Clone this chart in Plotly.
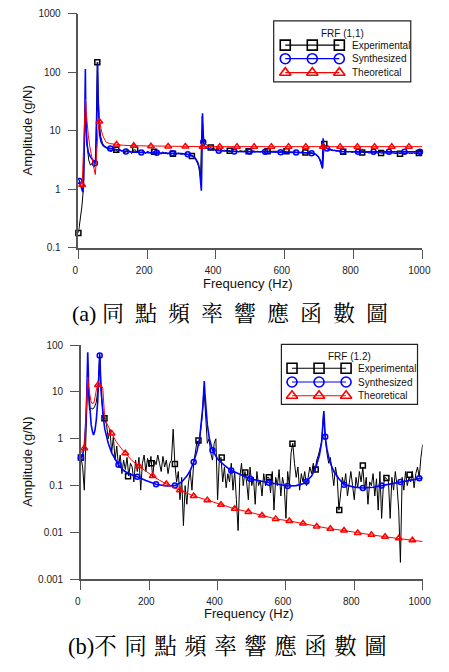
import math
import plotly.graph_objects as go

# the page body keeps the browser's default 8px margin on every side; the figure is sized
# so that figure + margins is exactly the 449x672 window
OFF = 8
W, H = 449 - 2 * OFF, 672 - 2 * OFF


def px(x):
    return (x - OFF) / W


def py(y):
    return 1 - (y - OFF) / H


# ---------------- DATA ----------------
freq_grid = list(range(0, 1001, 5))

# FRF (1,1) experimental (5 Hz grid)
top_exp = [
    0.18, 0.30, 0.50, 1.1, 25, 6.0, 3.2, 2.6, 2.8, 2.4,
    2.9, 150, 14, 8.0, 6.2, 5.5, 5.4, 4.8, 5.1, 4.4,
    4.9, 4.6, 4.8, 4.3, 4.9, 4.5, 4.7, 4.2, 4.8, 4.4,
    4.6, 4.1, 4.7, 4.8, 4.3, 4.6, 4.2, 4.5, 4.6, 4.1,
    4.5, 4.4, 4.2, 4.6, 4.4, 4.1, 4.4, 4.3, 4.0, 4.4,
    4.2, 4.3, 4.0, 4.3, 4.1, 4.1, 4.2, 4.0, 4.2, 4.1,
    4.0, 4.1, 3.9, 4.0, 3.9, 3.8, 3.75, 3.6, 3.4, 3.0,
    2.5, 1.6, 18, 7.0, 6.0, 5.6, 5.3, 5.2, 5.0, 5.1,
    4.8, 4.9, 4.7, 4.8, 4.6, 4.7, 4.6, 4.7, 4.6, 4.5,
    4.6, 4.5, 4.6, 4.4, 4.6, 4.5, 4.5, 4.6, 4.4, 4.5,
    4.5, 4.4, 4.6, 4.4, 4.5, 4.5, 4.4, 4.6, 4.4, 4.5,
    4.5, 4.4, 4.5, 4.4, 4.5, 4.4, 4.5, 4.3, 4.5, 4.4,
    4.4, 4.5, 4.3, 4.4, 4.4, 4.3, 4.4, 4.3, 4.4, 4.3,
    4.4, 4.3, 4.3, 4.3, 4.2, 4.3, 4.2, 4.1, 4.0, 3.8,
    3.4, 2.8, 2.3, 6.0, 5.2, 4.9, 4.8, 4.7, 4.6, 4.7,
    4.5, 4.6, 4.5, 4.5, 4.4, 4.5, 4.4, 4.4, 4.5, 4.3,
    4.4, 4.4, 4.3, 4.4, 4.3, 4.3, 4.4, 4.3, 4.3, 4.2,
    4.3, 4.3, 4.2, 4.3, 4.2, 4.3, 4.2, 4.2, 4.3, 4.2,
    4.2, 4.3, 4.2, 4.2, 4.1, 4.2, 4.2, 4.1, 4.2, 4.2,
    4.1, 4.2, 4.2, 4.1, 4.2, 4.2, 4.1, 4.2, 4.2, 4.1,
    4.2,
]
top_exp_marker_every = 11

# FRF (1,1) synthesized
top_syn_f = [0, 3, 5, 10, 13, 15, 17, 18.5, 19.5, 20.3, 21, 22.5, 25, 29, 35, 42, 48, 50, 52, 54,
             55, 56, 57, 59, 62, 66, 72, 80, 93, 110, 138, 183, 228, 273, 300, 318, 330, 340,
             347, 352, 355.5, 357.5, 359, 360, 361, 362, 363, 366, 375, 390, 408, 453, 498,
             543, 588, 633, 665, 678, 690, 698, 704, 708, 709.5, 710.5, 711.5, 713, 716, 723,
             740, 768, 813, 858, 903, 948, 993, 1000]
top_syn_a = [1.5, 1.4, 1.25, 0.95, 0.9, 1.5, 4, 15, 50, 115, 40, 12, 6, 4.3, 3.6, 3.2, 2.8, 3.2, 6, 20,
             60, 150, 40, 14, 8.5, 6.5, 5.6, 5.2, 5.0, 4.7, 4.45, 4.3, 4.25, 4.15, 4.1, 4.0, 3.8, 3.4,
             2.9, 2.3, 1.5, 0.95, 3, 9, 20, 10, 6.5, 5.6, 5.0, 4.75, 4.6, 4.45, 4.45,
             4.4, 4.35, 4.3, 4.22, 4.18, 4.0, 3.6, 3.1, 2.6, 2.3, 4, 7.5, 6.0, 5.4, 5.0,
             4.7, 4.45, 4.4, 4.4, 4.4, 4.4, 4.4, 4.4]
top_syn_marker_f = [3, 48, 93, 138, 183, 228, 273, 318, 363, 408, 453, 498, 543, 588, 633, 678,
                    723, 768, 813, 858, 903, 948, 993]

# FRF (1,1) theoretical
top_th_f = [11, 14, 17, 19, 20.5, 23, 26, 29, 33, 38, 44, 49, 51, 54, 57, 61, 63, 66, 70, 80, 90,
            111, 130, 161, 211, 261, 311, 361, 411, 461, 511, 561, 611, 661, 711, 761, 811, 861,
            911, 961, 1000]
top_th_a = [1.2, 3, 10, 25, 35, 20, 12, 8.3, 5.5, 3.8, 2.5, 1.8, 2.5, 5, 10, 14.5, 13.5, 11, 8.5, 6.5,
            6.1, 5.9, 5.7, 5.6, 5.5, 5.45, 5.45, 5.4, 5.4, 5.4, 5.4, 5.4, 5.4, 5.4, 5.4, 5.4, 5.4,
            5.4, 5.4, 5.4, 5.4]
top_th_marker_f = [11, 61, 111, 161, 211, 261, 311, 361, 411, 461, 511, 561, 611, 661, 711, 761,
                   811, 861, 911, 961]

# FRF (1.2) experimental (5 Hz grid)
bot_exp = [
    0.40, 0.25, 0.08, 1.5, 20, 4.2, 4.5, 4.3, 4.8, 6.0,
    12, 65, 8.0, 3.5, 2.7, 2.0, 1.0, 1.6, 0.5, 1.1,
    0.35, 0.7, 0.25, 0.45, 0.18, 0.35, 0.22, 0.4, 0.16, 0.3,
    0.25, 0.12, 0.35, 0.2, 0.4, 0.08, 0.3, 0.45, 0.2, 0.38,
    0.25, 0.42, 0.15, 0.35, 0.28, 0.45, 0.3, 0.2, 0.42, 0.25,
    0.35, 0.18, 0.3, 0.35, 1.6, 0.29, 0.12, 0.2, 0.05, 0.15,
    0.014, 0.1, 0.04, 0.12, 0.2, 0.08, 0.3, 0.5, 0.9, 0.7,
    1.5, 3.0, 12, 2.5, 0.8, 1.0, 0.5, 0.35, 0.8, 1.0,
    0.05, 0.35, 0.4, 0.12, 0.25, 0.09, 0.18, 0.12, 0.3, 0.08,
    0.2, 0.05, 0.011, 0.15, 0.3, 0.1, 0.2, 0.12, 0.05, 0.25,
    0.1, 0.15, 0.04, 0.2, 0.1, 0.13, 0.06, 0.18, 0.1, 0.15,
    0.15, 0.07, 0.2, 0.03, 0.15, 0.1, 0.22, 0.06, 0.15, 0.1,
    0.02, 0.2, 0.1, 0.5, 0.8, 0.3, 0.15, 0.25, 0.08, 0.18,
    0.12, 0.2, 0.1, 0.15, 0.25, 0.18, 0.3, 0.2, 0.35, 0.45,
    0.6, 0.9, 3.5, 1.0, 0.5, 0.3, 0.4, 0.2, 0.1, 0.25,
    0.15, 0.03, 0.08, 0.15, 0.1, 0.18, 0.06, 0.12, 0.2, 0.1,
    0.05, 0.15, 0.09, 0.2, 0.12, 0.25, 0.08, 0.15, 0.04, 0.12,
    0.1, 0.18, 0.06, 0.14, 0.03, 0.2, 0.02, 0.1, 0.15, 0.14,
    0.12, 0.02, 0.15, 0.08, 0.2, 0.1, 0.03, 0.0023, 0.15, 0.08,
    0.2, 0.1, 0.15, 0.12, 0.2, 0.09, 0.18, 0.25, 0.15, 0.4,
    0.75,
]
bot_exp_marker_f = [0, 69, 138, 206, 275, 344, 412, 481, 550, 619, 687, 756, 825, 894, 962]
bot_exp_marker_a = [0.40, 2.75, 0.158, 0.30, 0.29, 0.92, 0.40, 0.19, 0.15, 0.78, 0.22, 0.03, 0.27,
                    0.145, 0.17]

# FRF (1.2) synthesized
bot_syn_f = [0, 5, 10, 14, 17, 19, 20, 21, 23, 26, 30, 34, 37, 41, 45, 49, 52, 54, 55, 56, 58, 61,
             65, 70, 80, 90, 100, 110, 125, 140, 165, 190, 220, 250, 275, 295, 310, 320, 330, 340,
             348, 353, 357, 359, 361, 363, 366, 370, 376, 385, 400, 420, 440, 470, 495, 525, 550,
             580, 605, 630, 650, 660, 675, 688, 698, 704, 708, 711, 713, 715, 720, 728, 740, 755,
             770, 800, 825, 855, 880, 910, 935, 965, 990, 1000]
bot_syn_a = [0.39, 0.45, 0.7, 2, 8, 40, 70, 40, 10, 4, 2, 1.4, 1.2, 1.5, 2.5, 6, 15, 40, 60, 50, 15, 6,
             3, 1.6, 0.8, 0.5, 0.36, 0.28, 0.21, 0.18, 0.155, 0.128, 0.107, 0.098, 0.10, 0.12, 0.16,
             0.21, 0.32, 0.55, 1.1, 2.2, 5, 9, 17, 9, 4, 2, 1.0, 0.57, 0.37, 0.27, 0.21, 0.165, 0.14,
             0.125, 0.115, 0.105, 0.098, 0.1, 0.11, 0.123, 0.16, 0.25, 0.45, 0.8, 1.6, 3.9, 2.0,
             1.1, 0.6, 0.33, 0.2, 0.14, 0.105, 0.093, 0.089, 0.092, 0.1, 0.11, 0.12, 0.13, 0.144,
             0.146]
bot_syn_marker_f = [0, 55, 110, 165, 220, 275, 330, 385, 440, 495, 550, 605, 660, 715, 770, 825, 880,
                    935, 990]

# FRF (1.2) theoretical
bot_th_f = [0, 5, 10, 14, 17, 19, 20, 22, 25, 29, 32, 38, 42, 46, 50, 55, 62, 64, 66, 69, 75, 82, 90,
            100, 110, 130, 150, 170, 190, 210, 230, 250, 270, 290, 310, 330, 370, 410, 450, 490,
            530, 570, 610, 650, 690, 730, 770, 810, 850, 890, 930, 970, 1000]
bot_th_a = [0.5, 0.56, 0.63, 2, 8, 18, 21, 14, 9, 6.5, 5.7, 5.8, 8, 12, 14, 13.5, 13, 12, 7, 3.3, 2.2,
            1.65, 1.3, 0.95, 0.74, 0.49, 0.34, 0.26, 0.2, 0.16, 0.13, 0.108, 0.092, 0.08, 0.069,
            0.06, 0.049, 0.039, 0.032, 0.0275, 0.023, 0.0195, 0.0176, 0.0155, 0.0135, 0.012, 0.011,
            0.0098, 0.0089, 0.0081, 0.0075, 0.0068, 0.0064]
bot_th_marker_f = [10, 50, 90, 130, 170, 210, 250, 290, 330, 370, 410, 450, 490, 530, 570, 610, 650,
                   690, 730, 770, 810, 850, 890, 930, 970]

x_ticks = [0, 200, 400, 600, 800, 1000]
x_minor = [100, 300, 500, 700, 900]
top_y_ticks = [0.1, 1, 10, 100, 1000]
top_y_text = ["0.1", "1", "10", "100", "1000"]
bot_y_ticks = [0.001, 0.01, 0.1, 1, 10, 100]
bot_y_text = ["0.001", "0.01", "0.1", "1", "10", "100"]

series_names = ["Experimental", "Synthesized", "Theoretical"]
top_legend_title = "FRF (1,1)"
bot_legend_title = "FRF (1.2)"
caption_a = "(a) 同\u2002點\u2002頻\u2002率\u2002響\u2002應\u2002函\u2002數\u2002圖"
caption_b = "(b)不\u2004同\u2004點\u2004頻\u2004率\u2004響\u2004應\u2004函\u2004數\u2004圖"
x_title = "Frequency (Hz)"
y_title = "Amplitude (g/N)"


# ---------------- helpers ----------------
def pick(fs, vals, keep):
    ks = set(keep)
    pairs = [(f, v) for f, v in zip(fs, vals) if f in ks]
    return [p[0] for p in pairs], [p[1] for p in pairs]


BLACK = "#000000"
BLUE = "#0000FF"
RED = "#FF0000"
AX = "#555555"
SANS = "Liberation Sans, Arial, sans-serif"
SERIF = "Liberation Serif, Noto Serif CJK TC, Noto Sans CJK TC, serif"

styles = {
    "Experimental": dict(color=BLACK, symbol="square-open", lw=1.0),
    "Synthesized": dict(color=BLUE, symbol="circle-open", lw=1.6),
    "Theoretical": dict(color=RED, symbol="triangle-up-open", lw=1.0),
}

fig = go.Figure()


def add_series(xa, ya, name, lx, ly, mx, my, msize):
    st = styles[name]
    fig.add_trace(go.Scatter(x=lx, y=ly, mode="lines", line=dict(color=st["color"], width=st["lw"]),
                             xaxis=xa, yaxis=ya, showlegend=False, hoverinfo="skip"))
    fig.add_trace(go.Scatter(x=mx, y=my, mode="markers", cliponaxis=False,
                             marker=dict(symbol=st["symbol"], size=msize, color=st["color"],
                                         line=dict(width=1.5, color=st["color"])),
                             xaxis=xa, yaxis=ya, showlegend=False, hoverinfo="skip"))


# top chart
add_series("x", "y", "Experimental", freq_grid, top_exp,
           freq_grid[::top_exp_marker_every], top_exp[::top_exp_marker_every], 5)
mf, ma = pick(top_syn_f, top_syn_a, top_syn_marker_f)
add_series("x", "y", "Synthesized", top_syn_f, top_syn_a, mf, ma, 5)
mf, ma = pick(top_th_f, top_th_a, top_th_marker_f)
add_series("x", "y", "Theoretical", top_th_f, top_th_a, mf, ma, 6)

# bottom chart
add_series("x2", "y2", "Experimental", freq_grid, bot_exp, bot_exp_marker_f, bot_exp_marker_a, 5)
mf, ma = pick(bot_syn_f, bot_syn_a, bot_syn_marker_f)
add_series("x2", "y2", "Synthesized", bot_syn_f, bot_syn_a, mf, ma, 5)
mf, ma = pick(bot_th_f, bot_th_a, bot_th_marker_f)
add_series("x2", "y2", "Theoretical", bot_th_f, bot_th_a, mf, ma, 6)

# ---------------- custom legends (paper-space overlay axes) ----------------
annotations = []
shapes = []


def add_legend(box, title, title_xy, rows_y, key_x, text_x):
    x0, y0, x1, y1 = box
    shapes.append(dict(type="rect", xref="paper", yref="paper", x0=px(x0), x1=px(x1),
                       y0=py(y1), y1=py(y0), line=dict(color="#222222", width=1.2)))
    annotations.append(dict(text=title, x=px(title_xy[0]), y=py(title_xy[1]), xref="paper",
                            yref="paper", showarrow=False, xanchor="center", yanchor="middle",
                            font=dict(family=SANS, size=10, color="#111111")))
    for name, ry in zip(series_names, rows_y):
        st = styles[name]
        fig.add_trace(go.Scatter(x=[px(k) for k in key_x], y=[py(ry)] * len(key_x),
                                 mode="lines+markers",
                                 line=dict(color=st["color"], width=1.2),
                                 marker=dict(symbol=st["symbol"], size=10, color=st["color"],
                                             line=dict(width=1.6, color=st["color"])),
                                 xaxis="x3", yaxis="y3", showlegend=False, hoverinfo="skip",
                                 cliponaxis=False))
        annotations.append(dict(text=name, x=px(text_x), y=py(ry), xref="paper", yref="paper",
                                showarrow=False, xanchor="left", yanchor="middle",
                                font=dict(family=SANS, size=10, color="#111111")))


add_legend((277, 16, 419, 78), top_legend_title, (348, 28.5), [40.7, 54.5, 68.7],
           [289, 317, 345], 356)
add_legend((285, 345, 426, 406), bot_legend_title, (356, 357), [369.3, 383.3, 397.3],
           [296, 324, 352], 362)

# axis titles and captions
for cy in (128, 465):
    annotations.append(dict(text=y_title, x=px(22), y=py(cy), xref="paper", yref="paper",
                            showarrow=False, textangle=-90, xanchor="center", yanchor="middle",
                            font=dict(family=SANS, size=13, color="#111111")))
for cx, cy in ((250, 283), (251, 619)):
    annotations.append(dict(text=x_title, x=px(cx), y=py(cy), xref="paper", yref="paper",
                            showarrow=False, xanchor="center", yanchor="middle",
                            font=dict(family=SANS, size=13, color="#111111")))
annotations.append(dict(text=caption_a, x=px(232), y=py(314), xref="paper", yref="paper",
                        showarrow=False, xanchor="center", yanchor="middle",
                        font=dict(family=SERIF, size=22, color="#000000")))
annotations.append(dict(text=caption_b, x=px(229), y=py(652), xref="paper", yref="paper",
                        showarrow=False, xanchor="center", yanchor="middle",
                        font=dict(family=SERIF, size=22.5, color="#000000")))

# ---------------- axes ----------------
TF = dict(family=SANS, size=10, color="#222222")
TICK = dict(ticks="outside", tickwidth=1.3, tickcolor=AX, showgrid=False, zeroline=False)


def xaxis(domain, anchor):
    # labels nudged 3px left so the "1000" label stays inside the figure
    return dict(domain=domain, anchor=anchor, range=[0, 1000], tickmode="array", tickvals=x_ticks,
                ticktext=[str(v) for v in x_ticks], ticklen=9, showline=True, linecolor=AX,
                linewidth=1.5, tickfont=TF, ticklabelstandoff=3, ticklabelshift=-3, **TICK)


def xminor(over, anchor):
    return dict(overlaying=over, anchor=anchor, range=[0, 1000], tickmode="array",
                tickvals=x_minor, showticklabels=False, ticklen=4, showline=False, **TICK)


def log_minor(tv):
    vals = []
    v = tv[0]
    while v < tv[-1] * 0.99:
        for k in range(2, 10):
            vals.append(k * v)
        v *= 10
    return vals


def yaxis(domain, anchor, tv, tt):
    return dict(domain=domain, anchor=anchor, type="log",
                range=[math.log10(tv[0]), math.log10(tv[-1])], tickmode="array", tickvals=tv,
                ticktext=tt, ticklen=9, showline=True, linecolor=AX, linewidth=1.5, tickfont=TF,
                ticklabelstandoff=5, **TICK)


def yminor(over, anchor, tv):
    return dict(overlaying=over, anchor=anchor, type="log",
                range=[math.log10(tv[0]), math.log10(tv[-1])], tickmode="array",
                tickvals=log_minor(tv), showticklabels=False, ticklen=6, showline=False, **TICK)


fig.update_layout(
    width=W, height=H, margin=dict(l=0, r=0, t=0, b=0),
    paper_bgcolor="white", plot_bgcolor="rgba(0,0,0,0)", showlegend=False,
    xaxis=xaxis([px(74.7), px(431)], "y"),
    yaxis=yaxis([py(247), py(9)], "x", top_y_ticks, top_y_text),
    xaxis2=xaxis([px(77.3), px(431.3)], "y2"),
    yaxis2=yaxis([py(584), py(345.7)], "x2", bot_y_ticks, bot_y_text),
    xaxis3=dict(domain=[0, 1], range=[0, 1], visible=False, anchor="y3", fixedrange=True),
    yaxis3=dict(domain=[0, 1], range=[0, 1], visible=False, anchor="x3", fixedrange=True),
    xaxis4=xminor("x", "y"),
    yaxis4=yminor("y", "x", top_y_ticks),
    xaxis5=xminor("x2", "y2"),
    yaxis5=yminor("y2", "x2", bot_y_ticks),
    annotations=annotations, shapes=shapes,
)

fig.write_html("out.html")
